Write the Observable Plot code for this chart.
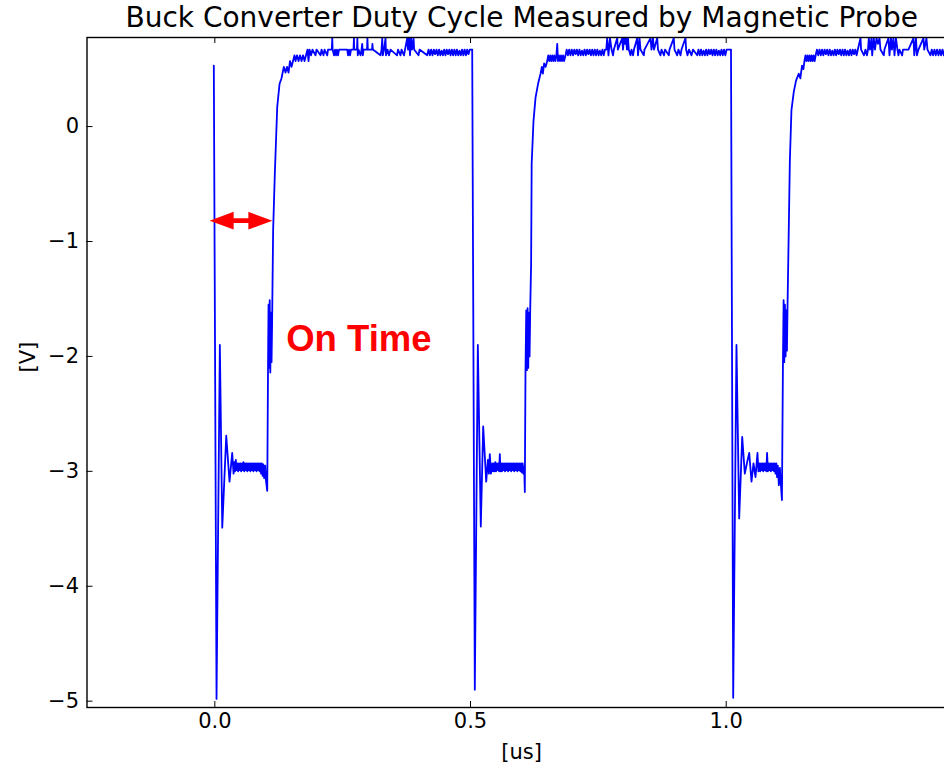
<!DOCTYPE html>
<html>
<head>
<meta charset="utf-8">
<script src="https://cdn.jsdelivr.net/npm/d3@7"></script>
<script src="https://cdn.jsdelivr.net/npm/@observablehq/plot@0.6"></script>
<style>
  html, body { margin: 0; padding: 0; background: #fff; overflow: hidden; }
  #chart { width: 944px; height: 769px; overflow: hidden; }
  #chart svg { max-width: none !important; }
</style>
</head>
<body>
<div id="chart"></div>
<script>
// ---- Texts ----
const titleText = "Buck Converter Duty Cycle Measured by Magnetic Probe";
const xLabel = "[us]";
const yLabel = "[V]";
const onTimeLabel = "On Time";

// ---- Ticks ----
const xTicks = [0, 0.5, 1.0];
const xTickLabels = ["0.0", "0.5", "1.0"];
const yTicks = [0, -1, -2, -3, -4, -5];
const yTickLabels = ["0", "\u22121", "\u22122", "\u22123", "\u22124", "\u22125"];

// ---- Annotation (on-time arrow) in data units ----
const arrowFrom = -0.0092;   // us
const arrowTo = 0.1135;      // us
const arrowLevel = -0.823;   // V
const onTimeAt = [0.1395, -1.954]; // us, V (text baseline start)

// ---- Waveform samples [time (us), voltage (V)] ----
const cycle1 = [
[-0.0020,0.53],[0.0033,-4.98],[0.0098,-1.90],[0.0145,-3.49],[0.0223,-2.69],[0.0287,-3.09],[0.0340,-2.84],
[0.0366,-3.02],[0.0380,-2.92],[0.0395,-3.00],[0.0410,-2.90],[0.0425,-2.99],[0.0440,-2.93],[0.0455,-3.00],[0.0470,-2.93],[0.0485,-2.99],[0.0500,-2.93],[0.0515,-3.00],[0.0530,-2.93],[0.0545,-2.99],[0.0560,-2.92],[0.0575,-3.00],[0.0590,-2.93],[0.0605,-2.99],[0.0620,-2.93],[0.0635,-3.00],[0.0650,-2.93],[0.0665,-2.99],[0.0680,-2.93],[0.0695,-3.00],[0.0710,-2.93],[0.0725,-2.99],[0.0740,-2.93],[0.0755,-3.00],[0.0770,-2.93],[0.0785,-2.99],[0.0800,-2.93],[0.0815,-3.00],[0.0830,-2.93],[0.0845,-2.99],[0.0860,-2.93],[0.0875,-3.00],[0.0890,-2.93],[0.0905,-3.02],[0.0920,-2.93],[0.0935,-3.04],[0.0950,-2.94],[0.0965,-3.06],[0.0985,-2.95],[0.1000,-3.08],[0.1025,-3.17],
[0.1040,-2.10],[0.1050,-1.55],[0.1062,-2.10],[0.1073,-1.51],[0.1085,-2.14],[0.1097,-1.62],[0.1109,-2.05],[0.1120,-1.70],[0.1140,-0.90],[0.1173,-0.41],[0.1220,0.17],[0.1265,0.37],[0.1304,0.42],[0.1349,0.52],
[0.1382,0.47],[0.1412,0.52],[0.1441,0.47],[0.1470,0.57],[0.1500,0.52],[0.1529,0.57],[0.1558,0.62],[0.1578,0.57],[0.1607,0.62],[0.1637,0.57],[0.1666,0.62],[0.1695,0.57],[0.1725,0.62],[0.1754,0.57],[0.1783,0.62],[0.1813,0.67],[0.1832,0.57],[0.1852,0.67],[0.1881,0.62],[0.1910,0.67],
[0.1969,0.62],[0.1988,0.67],[0.2067,0.62],[0.2086,0.67],[0.2125,0.62],[0.2145,0.67],[0.2198,0.62],[0.2213,0.67],[0.2288,0.67],[0.2296,0.77],[0.2303,0.67],[0.2331,0.62],[0.2350,0.67],[0.2370,0.62],[0.2389,0.67],[0.2409,0.62],[0.2429,0.67],[0.2589,0.67],[0.2605,0.62],[0.2624,0.67],[0.2644,0.62],[0.2663,0.67],[0.2712,0.67],[0.2720,0.77],[0.2727,0.67],[0.2779,0.67],[0.2787,0.77],[0.2795,0.62],[0.2810,0.67],[0.2849,0.62],[0.2869,0.67],[0.2882,0.72],[0.2894,0.62],[0.2908,0.67],[0.2976,0.67],[0.2984,0.77],[0.2992,0.67],[0.3074,0.67],[0.3082,0.72],[0.3090,0.67],[0.3240,0.62],[0.3260,0.67],[0.3274,0.77],[0.3285,0.62],[0.3309,0.67],[0.3338,0.77],[0.3347,0.62],[0.3377,0.67],[0.3406,0.62],[0.3436,0.67],[0.3563,0.62],[0.3582,0.67],[0.3631,0.62],[0.3651,0.67],[0.3700,0.62],[0.3719,0.67],[0.3762,0.77],[0.3778,0.67],[0.3798,0.77],[0.3817,0.62],[0.3837,0.77],[0.3856,0.67],[0.3886,0.77],[0.3897,0.67],[0.3983,0.62],[0.4003,0.67],[0.4153,0.62],
[0.4180,0.67],[0.4205,0.62],[0.4230,0.67],[0.4257,0.62],[0.4283,0.67],[0.4308,0.63],[0.4335,0.67],[0.4360,0.62],[0.4385,0.67],[0.4410,0.62],[0.4435,0.66],[0.4460,0.62],[0.4485,0.67],[0.4510,0.62],[0.4535,0.67],[0.4560,0.63],[0.4585,0.67],[0.4610,0.62],[0.4635,0.67],[0.4660,0.62],[0.4685,0.67],[0.4710,0.62],[0.4735,0.67],[0.4760,0.62],[0.4785,0.66],[0.4810,0.62],[0.4835,0.67],[0.4860,0.62],[0.4885,0.67],[0.4910,0.62],[0.4935,0.67],[0.4960,0.63],[0.4985,0.67],[0.5033,0.67]
];

const cycle2 = [
[0.5084,-4.90],[0.5143,-1.90],[0.5201,-3.48],[0.5248,-2.61],[0.5307,-3.09],[0.5340,-2.90],[0.5360,-3.02],[0.5377,-2.85],[0.5400,-3.02],
[0.5425,-2.93],[0.5440,-3.00],[0.5455,-2.93],[0.5470,-3.00],[0.5485,-2.92],[0.5500,-3.00],[0.5515,-2.93],[0.5530,-2.99],[0.5545,-2.93],[0.5560,-3.00],[0.5573,-2.85],[0.5585,-3.00],[0.5600,-2.93],[0.5615,-3.00],[0.5630,-2.93],[0.5645,-2.99],[0.5660,-2.93],[0.5675,-3.00],[0.5690,-2.93],[0.5705,-2.99],[0.5720,-2.93],[0.5735,-3.00],[0.5750,-2.93],[0.5765,-2.99],[0.5780,-2.93],[0.5795,-3.00],[0.5810,-2.93],[0.5825,-2.99],[0.5840,-2.93],[0.5855,-3.00],[0.5870,-2.93],[0.5885,-2.99],[0.5900,-2.93],[0.5915,-3.00],[0.5930,-2.93],[0.5945,-2.99],[0.5960,-2.93],[0.5975,-3.00],[0.5990,-2.93],[0.6005,-3.01],[0.6020,-2.93],[0.6035,-3.02],[0.6050,-2.96],[0.6062,-3.18],
[0.6075,-2.14],[0.6090,-1.60],[0.6103,-2.12],[0.6116,-1.58],[0.6129,-2.10],[0.6142,-1.62],[0.6155,-2.00],[0.6168,-1.58],[0.6185,-1.20],[0.6196,-0.32],[0.6232,0.05],[0.6271,0.25],[0.6320,0.37],[0.6369,0.46],[0.6395,0.52],[0.6415,0.46],[0.6440,0.55],[0.6470,0.52],[0.6500,0.57],
[0.6520,0.62],[0.6540,0.57],[0.6560,0.62],[0.6580,0.57],[0.6600,0.62],[0.6620,0.57],[0.6640,0.62],[0.6660,0.57],[0.6680,0.62],[0.6696,0.72],[0.6710,0.57],[0.6730,0.62],[0.6750,0.57],[0.6770,0.62],[0.6790,0.57],[0.6810,0.62],[0.6830,0.57],[0.6858,0.62],[0.6880,0.67],
[0.6905,0.62],[0.6930,0.67],[0.6955,0.62],[0.6980,0.67],[0.7005,0.62],[0.7030,0.67],[0.7055,0.63],[0.7080,0.67],[0.7105,0.62],[0.7130,0.67],[0.7155,0.62],[0.7180,0.66],[0.7205,0.62],[0.7230,0.67],[0.7255,0.62],[0.7280,0.67],[0.7305,0.63],[0.7330,0.67],[0.7355,0.62],[0.7380,0.67],[0.7405,0.62],[0.7430,0.67],[0.7455,0.62],[0.7480,0.67],[0.7505,0.62],[0.7530,0.66],[0.7555,0.62],[0.7580,0.67],[0.7605,0.62],[0.7630,0.67],[0.7655,0.67],
[0.7673,0.77],[0.7698,0.62],[0.7728,0.77],[0.7758,0.67],[0.7787,0.62],[0.7803,0.67],[0.7869,0.77],[0.7881,0.67],[0.7967,0.77],[0.7982,0.67],[0.8002,0.77],[0.8021,0.72],[0.8041,0.77],[0.8060,0.67],[0.8080,0.77],[0.8095,0.67],[0.8129,0.62],[0.8148,0.67],[0.8178,0.62],[0.8197,0.67],[0.8260,0.77],[0.8275,0.62],[0.8305,0.77],[0.8324,0.67],[0.8389,0.62],[0.8402,0.67],[0.8520,0.77],[0.8539,0.67],[0.8568,0.77],[0.8588,0.67],[0.8651,0.77],[0.8666,0.67],[0.8715,0.62],[0.8735,0.67],[0.8784,0.62],[0.8803,0.67],[0.8878,0.62],[0.8891,0.67],[0.8975,0.77],[0.8989,0.67],[0.9042,0.62],[0.9067,0.67],[0.9106,0.62],[0.9126,0.67],[0.9204,0.77],[0.9216,0.67],[0.9243,0.62],[0.9273,0.67],[0.9322,0.62],[0.9351,0.67],
[0.9433,0.62],[0.9458,0.67],[0.9483,0.62],[0.9508,0.67],[0.9533,0.62],[0.9558,0.66],[0.9583,0.62],[0.9608,0.67],[0.9633,0.62],[0.9658,0.67],[0.9683,0.63],[0.9708,0.67],[0.9733,0.62],[0.9758,0.67],[0.9783,0.62],[0.9808,0.67],[0.9833,0.62],[0.9858,0.66],[0.9883,0.62],[0.9908,0.67],[0.9933,0.62],[0.9958,0.67],[0.9983,0.62],[1.0008,0.67],[1.0094,0.67]
];

const cycle3 = [
[1.0137,-4.97],[1.0201,-1.90],[1.0254,-3.41],[1.0313,-2.70],[1.0364,-3.02],[1.0410,-2.92],[1.0450,-2.84],[1.0495,-3.09],[1.0534,-2.93],[1.0573,-3.05],[1.0612,-2.84],[1.0630,-3.00],
[1.0650,-2.93],[1.0665,-3.00],[1.0680,-2.93],[1.0695,-2.99],[1.0710,-2.93],[1.0725,-3.00],[1.0740,-2.93],[1.0755,-2.99],[1.0770,-2.93],[1.0785,-3.00],[1.0800,-2.84],[1.0815,-3.00],[1.0830,-2.93],[1.0845,-2.99],[1.0860,-2.93],[1.0875,-3.00],[1.0890,-2.93],[1.0905,-2.99],[1.0920,-2.93],[1.0935,-3.00],[1.0950,-2.93],[1.0965,-3.02],[1.0980,-2.93],[1.0995,-3.05],[1.1010,-2.95],[1.1030,-3.12],[1.1050,-2.97],[1.1060,-3.05],[1.1090,-3.25],
[1.1110,-2.06],[1.1123,-1.51],[1.1136,-2.05],[1.1149,-1.55],[1.1162,-2.00],[1.1175,-1.60],[1.1188,-1.95],[1.1200,-1.55],[1.1220,-1.00],[1.1245,-0.30],[1.1276,0.14],[1.1321,0.30],[1.1366,0.40],[1.1418,0.46],[1.1450,0.42],[1.1483,0.53],[1.1510,0.50],[1.1530,0.57],
[1.1550,0.62],[1.1570,0.57],[1.1590,0.62],[1.1610,0.57],[1.1630,0.62],[1.1650,0.57],[1.1670,0.62],[1.1690,0.57],[1.1710,0.62],[1.1730,0.57],[1.1750,0.62],[1.1775,0.67],
[1.1800,0.62],[1.1825,0.67],[1.1850,0.62],[1.1875,0.67],[1.1900,0.62],[1.1925,0.67],[1.1950,0.63],[1.1975,0.67],[1.2000,0.62],[1.2025,0.67],[1.2050,0.62],[1.2075,0.66],[1.2100,0.62],[1.2125,0.67],[1.2150,0.62],[1.2175,0.67],[1.2200,0.63],[1.2225,0.67],[1.2250,0.62],[1.2275,0.67],[1.2300,0.62],[1.2325,0.67],[1.2350,0.62],[1.2375,0.66],[1.2400,0.62],[1.2425,0.67],[1.2450,0.62],[1.2475,0.67],[1.2500,0.63],[1.2525,0.67],[1.2550,0.62],[1.2575,0.67],
[1.2627,0.77],[1.2638,0.67],[1.2695,0.62],[1.2724,0.67],[1.2753,0.62],[1.2773,0.67],[1.2789,0.77],[1.2812,0.67],[1.2841,0.77],[1.2855,0.62],[1.2886,0.77],[1.2910,0.67],[1.2939,0.77],[1.2968,0.72],[1.2998,0.77],[1.3017,0.67],[1.3082,0.62],[1.3095,0.67],[1.3173,0.77],[1.3193,0.62],[1.3222,0.77],[1.3242,0.67],[1.3271,0.77],[1.3291,0.62],[1.3320,0.77],[1.3349,0.67],[1.3369,0.62],[1.3388,0.67],[1.3441,0.62],[1.3457,0.67],[1.3564,0.67],[1.3662,0.77],[1.3678,0.62],[1.3711,0.77],[1.3730,0.62],[1.3760,0.67],[1.3857,0.77],[1.3873,0.67],[1.3916,0.77],[1.3936,0.67],[1.3995,0.62],[1.4020,0.67],[1.4046,0.62],[1.4073,0.67],[1.4098,0.62],[1.4124,0.67],[1.4151,0.62],[1.4177,0.67],[1.4202,0.62],[1.4230,0.67],[1.4255,0.62],[1.4281,0.67],[1.4308,0.62],[1.4347,0.67],[1.4425,0.62],[1.4445,0.67],[1.4503,0.67]
];

// ---- Build table ----
const samples = [...cycle1, ...cycle2, ...cycle3].map(([t, v]) => ({t, v}));

// ---- Layout ----
const W = 960, H = 769;
const M = {top: 37, right: 4.2, bottom: 62, left: 86.5};
const frameW = W - M.left - M.right;
const frameH = H - M.top - M.bottom;
const tickLen = 6;
const fontMain = "'DejaVu Sans', sans-serif";

// custom mark: filled double-headed arrow positioned through the x/y scales
function onTimeArrow(index, scales) {
  const sx = scales.x, sy = scales.y;
  const x1 = sx(arrowFrom), x2 = sx(arrowTo), yc = sy(arrowLevel);
  const hl = 24, hh = 8.8, sh = 2.4;
  const d = `M${x1},${yc}L${x1 + hl},${yc - hh}L${x1 + hl},${yc - sh}L${x2 - hl},${yc - sh}L${x2 - hl},${yc - hh}L${x2},${yc}L${x2 - hl},${yc + hh}L${x2 - hl},${yc + sh}L${x1 + hl},${yc + sh}L${x1 + hl},${yc + hh}Z`;
  const p = document.createElementNS("http://www.w3.org/2000/svg", "path");
  p.setAttribute("d", d);
  p.setAttribute("fill", "#ff0000");
  return p;
}

const chart = Plot.plot({
  width: W,
  height: H,
  marginTop: M.top,
  marginRight: M.right,
  marginBottom: M.bottom,
  marginLeft: M.left,
  style: {fontFamily: fontMain, fontSize: "21px", color: "#000", background: "#fff", maxWidth: "none", width: W + "px", height: H + "px"},
  x: {
    domain: [-0.25, 1.45],
    ticks: xTicks,
    tickFormat: d => xTickLabels[xTicks.indexOf(d)],
    tickSize: 0,
    tickPadding: 6,
    label: null
  },
  y: {
    domain: [-5.055, 0.775],
    ticks: yTicks,
    tickFormat: d => yTickLabels[yTicks.indexOf(d)],
    tickSize: 0,
    tickPadding: 8,
    label: null
  },
  marks: [
    Plot.line(samples, {x: "t", y: "v", stroke: "#0000ff", strokeWidth: 1.8, clip: true}),
    Plot.ruleX(xTicks, {insetTop: frameH - tickLen, stroke: "#000", strokeWidth: 1}),
    Plot.ruleX(xTicks, {insetBottom: frameH - tickLen, stroke: "#000", strokeWidth: 1}),
    Plot.ruleY(yTicks, {insetRight: frameW - tickLen, stroke: "#000", strokeWidth: 1}),
    Plot.frame({stroke: "#000", strokeWidth: 1.4}),
    onTimeArrow,
    Plot.text([onTimeLabel], {
      x: () => onTimeAt[0], y: () => onTimeAt[1], text: d => d,
      textAnchor: "start", lineAnchor: "bottom",
      fill: "#ff0000", fontSize: 36.5, fontWeight: "bold",
      fontFamily: "'Liberation Sans', Arial, sans-serif"
    }),
    Plot.text([titleText], {text: d => d, frameAnchor: "top", dy: -19, lineAnchor: "middle", fontSize: 28, fill: "#000"}),
    Plot.text([xLabel], {text: d => d, frameAnchor: "bottom", dy: 45, lineAnchor: "middle", fontSize: 21, fill: "#000"}),
    Plot.text([yLabel], {text: d => d, frameAnchor: "left", dx: -58.5, rotate: -90, lineAnchor: "middle", fontSize: 21, fill: "#000"})
  ]
});

chart.style.maxWidth = "none";
document.getElementById("chart").appendChild(chart);
</script>
</body>
</html>
